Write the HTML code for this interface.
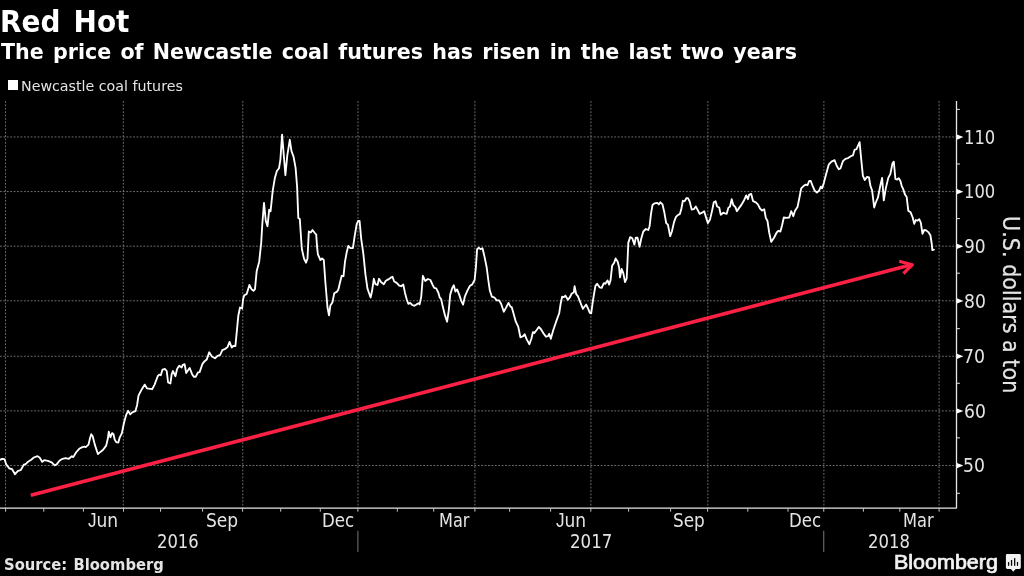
<!DOCTYPE html>
<html lang="en"><head><meta charset="utf-8"><title>Red Hot</title>
<style>
html,body{margin:0;padding:0;background:#000;}
body{width:1024px;height:576px;position:relative;overflow:hidden;color:#fff;font-family:'DejaVu Sans','Liberation Sans',sans-serif;}
#bb{-webkit-text-stroke:0.7px #f2f2f2;}
#ya{-webkit-text-stroke:0.25px #e4e4e4;}
.t{position:absolute;white-space:nowrap;line-height:1;transform-origin:0 0;}
#sq{position:absolute;left:7.9px;top:79.9px;width:10.2px;height:10.2px;background:#fff;}
#title{left:-0.25px;top:6.70px;font:bold 30.5px/1 'DejaVu Sans','Liberation Sans',sans-serif;color:#fff;transform:scaleX(0.9150);word-spacing:3.81px;}
#sub{left:1.41px;top:40.60px;font:bold 21.6px/1 'DejaVu Sans','Liberation Sans',sans-serif;color:#fff;transform:scaleX(0.9550);word-spacing:2.17px;}
#leg{left:20.55px;top:79.49px;font:normal 14.6px/1 'DejaVu Sans','Liberation Sans',sans-serif;color:#e4e4e4;transform:scaleX(0.9749);}
#src{left:4.12px;top:556.80px;font:bold 15.8px/1 'DejaVu Sans','Liberation Sans',sans-serif;color:#e4e4e4;transform:scaleX(0.9350);word-spacing:1.06px;}
#bb{left:893.61px;top:552.50px;font:normal 19.3px/1 'Liberation Sans','DejaVu Sans',sans-serif;color:#f2f2f2;transform:scaleX(1.1145);}
#y110{left:963.97px;top:126.86px;font:normal 20px/1 'DejaVu Sans','Liberation Sans',sans-serif;color:#e4e4e4;transform:scaleX(0.8172);}
#y100{left:963.97px;top:181.47px;font:normal 20px/1 'DejaVu Sans','Liberation Sans',sans-serif;color:#e4e4e4;transform:scaleX(0.8172);}
#y90{left:963.62px;top:236.09px;font:normal 20px/1 'DejaVu Sans','Liberation Sans',sans-serif;color:#e4e4e4;transform:scaleX(0.8534);}
#y80{left:963.51px;top:290.70px;font:normal 20px/1 'DejaVu Sans','Liberation Sans',sans-serif;color:#e4e4e4;transform:scaleX(0.8578);}
#y70{left:963.34px;top:346.17px;font:normal 20px/1 'DejaVu Sans','Liberation Sans',sans-serif;color:#e4e4e4;transform:scaleX(0.8652);}
#y60{left:963.51px;top:400.78px;font:normal 20px/1 'DejaVu Sans','Liberation Sans',sans-serif;color:#e4e4e4;transform:scaleX(0.8581);}
#y50{left:963.42px;top:455.39px;font:normal 20px/1 'DejaVu Sans','Liberation Sans',sans-serif;color:#e4e4e4;transform:scaleX(0.8617);}
#x0{left:88.17px;top:510.95px;font:normal 19.6px/1 'DejaVu Sans','Liberation Sans',sans-serif;color:#e4e4e4;transform:scaleX(0.8705);}
#x1{left:205.57px;top:510.95px;font:normal 19.6px/1 'DejaVu Sans','Liberation Sans',sans-serif;color:#e4e4e4;transform:scaleX(0.8711);}
#x2{left:322.30px;top:510.95px;font:normal 19.6px/1 'DejaVu Sans','Liberation Sans',sans-serif;color:#e4e4e4;transform:scaleX(0.8495);}
#x3{left:438.55px;top:510.95px;font:normal 19.6px/1 'DejaVu Sans','Liberation Sans',sans-serif;color:#e4e4e4;transform:scaleX(0.8229);}
#x4{left:555.67px;top:510.95px;font:normal 19.6px/1 'DejaVu Sans','Liberation Sans',sans-serif;color:#e4e4e4;transform:scaleX(0.8705);}
#x5{left:672.58px;top:510.95px;font:normal 19.6px/1 'DejaVu Sans','Liberation Sans',sans-serif;color:#e4e4e4;transform:scaleX(0.8624);}
#x6{left:789.20px;top:510.95px;font:normal 19.6px/1 'DejaVu Sans','Liberation Sans',sans-serif;color:#e4e4e4;transform:scaleX(0.8495);}
#x7{left:902.54px;top:510.95px;font:normal 19.6px/1 'DejaVu Sans','Liberation Sans',sans-serif;color:#e4e4e4;transform:scaleX(0.8286);}
#yr2016{left:157.34px;top:530.75px;font:normal 20px/1 'DejaVu Sans','Liberation Sans',sans-serif;color:#e4e4e4;transform:scaleX(0.8200);}
#yr2017{left:569.63px;top:530.75px;font:normal 20px/1 'DejaVu Sans','Liberation Sans',sans-serif;color:#e4e4e4;transform:scaleX(0.8321);}
#yr2018{left:867.94px;top:530.75px;font:normal 20px/1 'DejaVu Sans','Liberation Sans',sans-serif;color:#e4e4e4;transform:scaleX(0.8237);}
#ya{left:0;top:0;font:normal 23.3px/1 'DejaVu Sans','Liberation Sans',sans-serif;color:#e4e4e4;transform:translate(1022.80px,216.10px) rotate(90deg) scaleX(0.8891);}
</style></head><body>
<svg width="1024" height="576" viewBox="0 0 1024 576" style="position:absolute;left:0;top:0"><g stroke="#828282" stroke-width="0.853" stroke-dasharray="1.8 1.613"><line x1="0" y1="136.96" x2="956.5" y2="136.96"/><line x1="0" y1="191.57" x2="956.5" y2="191.57"/><line x1="0" y1="246.19" x2="956.5" y2="246.19"/><line x1="0" y1="300.8" x2="956.5" y2="300.8"/><line x1="0" y1="356.27" x2="956.5" y2="356.27"/><line x1="0" y1="410.88" x2="956.5" y2="410.88"/><line x1="0" y1="465.49" x2="956.5" y2="465.49"/><line x1="5.55" y1="101" x2="5.55" y2="508.1"/><line x1="123.31" y1="101" x2="123.31" y2="508.1"/><line x1="242.77" y1="101" x2="242.77" y2="508.1"/><line x1="357.97" y1="101" x2="357.97" y2="508.1"/><line x1="474.88" y1="101" x2="474.88" y2="508.1"/><line x1="590.93" y1="101" x2="590.93" y2="508.1"/><line x1="707.84" y1="101" x2="707.84" y2="508.1"/><line x1="823.89" y1="101" x2="823.89" y2="508.1"/><line x1="939.09" y1="101" x2="939.09" y2="508.1"/></g><polyline points="0,508.1 956.5,508.1 956.5,101" stroke="#e6e6e6" stroke-width="1.3" fill="none" stroke-linejoin="round"/><path d="M956.9 134.46 L963.4 137.06 L956.9 139.66Z" fill="#fff"/><path d="M956.9 189.07 L963.4 191.67 L956.9 194.26999999999998Z" fill="#fff"/><path d="M956.9 243.69 L963.4 246.29 L956.9 248.89Z" fill="#fff"/><path d="M956.9 298.3 L963.4 300.90000000000003 L956.9 303.5Z" fill="#fff"/><path d="M956.9 353.77 L963.4 356.37 L956.9 358.96999999999997Z" fill="#fff"/><path d="M956.9 408.38 L963.4 410.98 L956.9 413.58Z" fill="#fff"/><path d="M956.9 462.99 L963.4 465.59000000000003 L956.9 468.19Z" fill="#fff"/><line x1="956.5" y1="109.36000000000001" x2="959.9" y2="109.36000000000001" stroke="#e4e4e4" stroke-width="1"/><line x1="956.5" y1="163.96999999999997" x2="959.9" y2="163.96999999999997" stroke="#e4e4e4" stroke-width="1"/><line x1="956.5" y1="218.58999999999997" x2="959.9" y2="218.58999999999997" stroke="#e4e4e4" stroke-width="1"/><line x1="956.5" y1="273.2" x2="959.9" y2="273.2" stroke="#e4e4e4" stroke-width="1"/><line x1="956.5" y1="328.66999999999996" x2="959.9" y2="328.66999999999996" stroke="#e4e4e4" stroke-width="1"/><line x1="956.5" y1="383.28" x2="959.9" y2="383.28" stroke="#e4e4e4" stroke-width="1"/><line x1="956.5" y1="437.89" x2="959.9" y2="437.89" stroke="#e4e4e4" stroke-width="1"/><line x1="956.5" y1="493.29" x2="959.9" y2="493.29" stroke="#e4e4e4" stroke-width="1"/><g stroke="#c4c4c4" stroke-width="1"><line x1="5.6" y1="508.1" x2="5.6" y2="511.70000000000005"/><line x1="43.75" y1="508.1" x2="43.75" y2="511.70000000000005"/><line x1="83.4" y1="508.1" x2="83.4" y2="511.70000000000005"/><line x1="123.5" y1="508.1" x2="123.5" y2="511.70000000000005"/><line x1="160.5" y1="508.1" x2="160.5" y2="511.70000000000005"/><line x1="202.6" y1="508.1" x2="202.6" y2="511.70000000000005"/><line x1="242.6" y1="508.1" x2="242.6" y2="511.70000000000005"/><line x1="280.7" y1="508.1" x2="280.7" y2="511.70000000000005"/><line x1="320.3" y1="508.1" x2="320.3" y2="511.70000000000005"/><line x1="357.9" y1="508.1" x2="357.9" y2="511.70000000000005"/><line x1="397.3" y1="508.1" x2="397.3" y2="511.70000000000005"/><line x1="433.7" y1="508.1" x2="433.7" y2="511.70000000000005"/><line x1="474.9" y1="508.1" x2="474.9" y2="511.70000000000005"/><line x1="509.6" y1="508.1" x2="509.6" y2="511.70000000000005"/><line x1="550.6" y1="508.1" x2="550.6" y2="511.70000000000005"/><line x1="590.8" y1="508.1" x2="590.8" y2="511.70000000000005"/><line x1="628.6" y1="508.1" x2="628.6" y2="511.70000000000005"/><line x1="670.6" y1="508.1" x2="670.6" y2="511.70000000000005"/><line x1="707.6" y1="508.1" x2="707.6" y2="511.70000000000005"/><line x1="747.8" y1="508.1" x2="747.8" y2="511.70000000000005"/><line x1="788" y1="508.1" x2="788" y2="511.70000000000005"/><line x1="823.75" y1="508.1" x2="823.75" y2="511.70000000000005"/><line x1="863.4" y1="508.1" x2="863.4" y2="511.70000000000005"/><line x1="899.8" y1="508.1" x2="899.8" y2="511.70000000000005"/><line x1="939.15" y1="508.1" x2="939.15" y2="511.70000000000005"/></g><g stroke="#858585" stroke-width="0.9"><line x1="357.9" y1="530.8" x2="357.9" y2="552"/><line x1="823.75" y1="530.8" x2="823.75" y2="552"/></g><g stroke="#fd2045" fill="none"><line x1="30.8" y1="495.3" x2="912.3" y2="264.5" stroke-width="3.65"/><polyline points="899.2,261.2 912.4,264.7 903.4,273.5" stroke-width="3.2" stroke-linejoin="round"/></g><polyline points="0.0,459.8 2.1,458.8 4.6,459.2 6.2,464.4 9.4,468.5 12.1,469.2 15.0,474.2 17.7,471.2 20.8,470.0 24.0,464.4 25.4,464.4 28.1,461.7 31.2,459.8 33.8,457.5 37.5,456.2 39.6,457.5 42.3,461.9 44.2,460.2 47.9,460.8 51.7,462.3 54.6,465.4 56.7,464.4 59.4,460.8 62.5,458.8 65.6,458.1 68.8,458.8 71.9,456.2 73.3,457.1 76.0,452.5 79.2,448.8 82.3,447.1 84.4,446.7 85.8,447.1 88.5,444.6 90.0,438.3 91.2,434.2 92.7,436.2 94.8,444.6 97.9,454.0 100.4,451.9 103.1,449.8 106.2,445.6 107.9,438.3 108.8,431.7 110.4,437.3 112.1,433.1 113.5,434.2 114.6,439.4 116.2,442.1 118.3,442.5 119.8,437.3 121.9,433.1 124.0,422.7 126.0,415.4 128.1,410.8 130.2,414.4 132.3,412.3 135.4,411.2 137.1,405.0 138.5,395.6 141.7,389.4 144.8,384.6 146.9,388.3 152.1,389.2 154.6,384.6 157.7,376.2 159.2,374.6 160.8,375.2 162.5,369.6 165.0,369.0 166.7,371.0 168.1,382.5 170.4,383.5 171.7,374.2 172.9,371.0 175.4,376.2 177.1,369.0 179.2,365.8 181.7,367.5 182.7,364.8 184.6,364.2 186.2,373.1 189.6,367.9 192.1,374.2 193.8,376.7 195.8,376.7 197.9,372.5 199.6,372.1 202.5,363.8 204.6,361.2 206.7,359.6 209.2,352.3 211.9,356.5 215.0,358.3 217.5,355.8 220.2,355.0 222.3,350.2 225.4,348.8 227.5,347.1 229.6,341.9 231.7,347.5 233.3,346.0 235.4,346.0 236.9,330.4 238.3,315.8 240.0,307.5 242.1,308.5 243.1,299.2 244.2,295.4 246.7,294.0 249.4,285.0 251.5,289.2 253.5,290.8 255.0,289.2 256.2,276.2 256.7,271.0 259.2,261.7 261.2,242.9 262.3,224.2 264.0,202.9 265.8,221.0 267.5,226.2 269.2,209.6 270.6,211.2 272.7,190.8 274.8,178.3 276.9,171.0 279.0,168.3 280.4,159.6 282.1,134.6 283.8,155.4 285.4,175.2 287.3,155.4 289.8,139.8 291.5,151.2 293.5,156.5 295.6,167.9 297.1,186.7 298.3,217.9 299.8,219.0 301.2,240.0 301.9,249.2 304.0,258.5 306.0,262.7 307.5,258.5 308.8,231.5 310.8,232.5 312.5,230.0 314.4,232.5 316.2,234.6 317.1,247.1 317.9,254.4 320.4,260.0 322.1,258.5 323.8,260.0 325.4,282.5 327.5,307.5 329.0,315.4 330.4,305.4 332.5,302.3 334.2,293.3 336.7,291.9 338.3,289.8 340.0,282.5 341.7,275.8 343.5,276.2 345.0,261.7 346.7,252.3 348.3,246.0 350.4,248.1 352.9,248.1 354.6,236.7 356.7,224.2 358.1,221.0 359.6,221.0 361.2,238.8 363.3,253.3 365.4,274.2 367.5,288.8 370.6,297.5 372.1,290.8 373.8,278.8 375.4,284.2 377.5,285.0 379.0,278.8 381.0,282.1 383.8,284.2 385.8,280.8 388.3,279.4 390.4,277.9 392.5,276.7 394.2,281.5 396.7,282.9 399.2,285.6 401.2,286.2 403.3,284.6 405.0,292.9 406.7,299.2 408.3,303.8 410.2,302.9 412.3,305.0 414.4,305.8 416.5,304.4 418.5,303.3 419.6,304.4 421.2,297.1 422.9,275.8 425.2,281.0 427.9,279.0 430.4,280.0 432.5,284.6 434.2,287.9 436.2,288.3 438.3,292.5 439.8,297.7 441.2,299.2 442.9,307.1 445.0,315.4 447.1,321.7 448.8,310.2 450.2,294.6 452.3,287.9 453.8,285.2 455.4,291.5 457.1,289.4 459.2,294.6 461.2,300.8 463.1,304.6 464.8,296.7 467.5,290.4 470.0,285.8 472.1,284.6 474.6,280.0 475.8,268.5 477.1,249.2 478.8,247.7 480.4,249.2 482.5,248.3 484.6,257.1 486.7,267.5 488.3,280.0 489.8,290.4 491.9,296.7 494.6,297.7 496.7,300.4 499.2,300.4 501.2,304.0 503.8,311.7 505.8,308.1 508.5,302.9 510.4,306.7 511.7,307.1 513.8,314.4 515.8,321.7 518.3,326.9 520.4,337.3 523.1,336.2 524.6,334.2 526.7,339.4 529.4,344.2 531.5,338.3 532.9,332.1 534.2,333.1 536.7,330.0 538.8,326.9 540.8,329.0 543.3,333.1 546.0,336.7 548.1,336.2 549.2,333.8 550.8,338.8 553.3,330.0 556.5,320.6 559.2,313.3 560.6,304.0 562.1,296.7 563.8,297.1 565.4,295.6 567.9,299.8 570.0,297.1 571.7,293.5 573.8,292.5 574.6,286.2 576.2,294.2 577.9,296.2 580.4,302.5 582.9,308.8 585.0,306.0 586.2,304.6 588.3,309.2 589.8,312.9 591.2,313.3 592.9,300.8 595.4,285.8 597.1,283.8 599.6,287.3 601.7,287.9 603.8,283.1 605.4,283.8 607.5,280.4 609.2,284.6 610.6,280.0 612.1,265.8 614.2,262.7 615.6,258.5 617.7,261.7 619.2,267.9 620.0,277.3 621.7,269.0 623.3,273.1 625.0,282.1 626.7,278.3 627.5,261.7 628.3,242.9 630.2,237.1 632.3,238.3 634.4,244.6 635.8,237.7 637.5,237.7 639.6,246.7 641.2,238.8 643.3,231.5 645.8,229.0 648.3,230.0 649.6,226.2 651.0,213.8 652.5,205.0 654.6,203.3 657.3,202.9 658.8,204.4 660.4,202.3 662.5,204.4 664.2,211.7 666.2,223.1 667.9,224.6 670.2,236.2 671.9,231.5 674.0,222.1 676.0,216.9 678.1,214.8 679.8,214.2 681.2,209.6 682.9,200.8 684.6,201.2 686.5,198.1 687.9,198.1 689.6,201.2 691.7,209.6 693.8,209.2 695.8,206.5 697.5,209.6 699.6,213.8 702.1,212.7 704.2,211.2 706.2,217.9 707.9,223.1 710.0,219.6 712.1,210.6 713.8,202.3 715.6,201.2 717.1,206.5 719.2,207.5 720.8,214.8 723.3,212.7 725.0,213.3 726.7,213.8 728.3,207.9 730.0,206.5 731.7,199.2 733.3,205.0 735.4,207.1 736.9,211.2 739.2,207.9 741.7,204.4 743.8,200.8 746.2,195.4 747.9,199.2 749.2,194.6 751.2,194.0 753.1,201.2 755.8,202.3 757.9,204.4 760.0,208.5 762.1,210.6 764.2,209.2 765.8,217.9 767.5,221.0 769.2,232.5 771.2,241.9 774.0,237.7 776.7,232.5 778.3,230.8 780.4,231.5 782.1,225.2 783.8,217.5 786.5,217.9 789.2,217.5 791.2,211.2 793.3,216.2 795.0,210.8 797.5,207.1 799.2,198.8 801.2,188.3 803.8,185.8 805.8,184.6 807.5,185.2 809.2,181.0 810.8,181.0 812.7,186.2 814.8,190.8 816.9,192.5 819.0,190.8 820.8,186.7 822.1,188.3 823.8,183.1 826.2,173.8 828.8,164.4 831.5,161.7 834.6,160.2 836.7,165.8 838.8,169.2 840.4,168.5 842.9,161.2 845.4,158.8 848.1,158.1 851.2,156.0 852.9,155.4 854.6,149.8 856.5,149.2 859.6,142.1 861.2,159.2 862.9,175.8 864.8,180.0 866.9,176.9 869.0,177.5 870.4,185.8 872.1,190.4 874.2,207.5 875.8,202.5 877.9,197.7 880.4,185.2 882.1,177.9 883.8,200.4 885.8,188.3 888.3,177.9 890.4,173.8 892.5,163.3 893.8,161.7 895.4,179.0 897.1,179.6 898.8,178.3 900.4,181.0 901.7,185.8 903.3,189.4 905.0,194.6 906.7,197.1 908.3,210.8 910.6,212.3 912.7,217.5 914.2,223.8 915.8,220.0 917.5,220.6 919.2,219.2 920.8,222.7 922.5,233.8 924.2,230.0 926.2,230.4 928.3,232.1 930.4,235.2 931.7,243.5 932.3,250.0 933.9,249.7" fill="none" stroke="#ffffff" stroke-width="1.85" stroke-linejoin="round" stroke-linecap="round"/><path d="M1007.3 553.9h12.1a1.4 1.4 0 0 1 1.4 1.4v12.2a1.4 1.4 0 0 1-1.4 1.4h-3.7l-2.4 2.9-2.4-2.9h-3.6a1.4 1.4 0 0 1-1.400-1.400v-12.200a1.400 1.400 0 0 1 1.400-1.400z" fill="#f2f2f2"/><g fill="#000"><rect x="1007.95" y="562.1" width="1.25" height="3.7"/><rect x="1010.9" y="560" width="1.3" height="5.8"/><rect x="1014.05" y="558.1" width="1.25" height="7.7"/><rect x="1016.9" y="561.9" width="1.2" height="3.9"/></g></svg>
<div id="sq"></div>
<div class="t" id="title">Red Hot</div>
<div class="t" id="sub">The price of Newcastle coal futures has risen in the last two years</div>
<div class="t" id="leg">Newcastle coal futures</div>
<div class="t" id="src">Source: Bloomberg</div>
<div class="t" id="bb">Bloomberg</div>
<div class="t" id="y110">110</div>
<div class="t" id="y100">100</div>
<div class="t" id="y90">90</div>
<div class="t" id="y80">80</div>
<div class="t" id="y70">70</div>
<div class="t" id="y60">60</div>
<div class="t" id="y50">50</div>
<div class="t" id="x0"><span style="font-family:Liberation Sans,sans-serif">J</span>un</div>
<div class="t" id="x1">Sep</div>
<div class="t" id="x2">Dec</div>
<div class="t" id="x3">Mar</div>
<div class="t" id="x4"><span style="font-family:Liberation Sans,sans-serif">J</span>un</div>
<div class="t" id="x5">Sep</div>
<div class="t" id="x6">Dec</div>
<div class="t" id="x7">Mar</div>
<div class="t" id="yr2016">2016</div>
<div class="t" id="yr2017">2017</div>
<div class="t" id="yr2018">2018</div>
<div class="t" id="ya">U.S. dollars a ton</div>
</body></html>
